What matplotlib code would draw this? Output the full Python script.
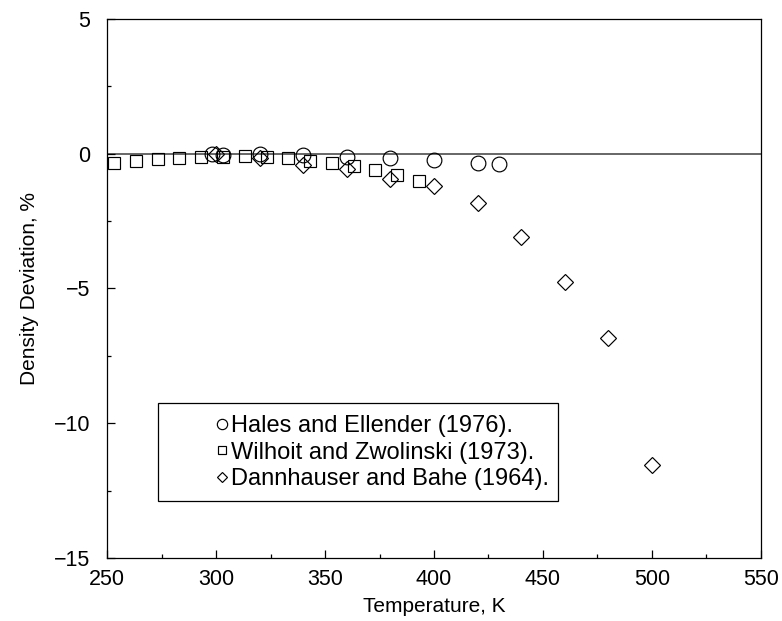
import matplotlib
matplotlib.use("Agg")
import matplotlib.pyplot as plt
from matplotlib.patches import Rectangle
from matplotlib.ticker import MultipleLocator

plt.rcParams['font.family'] = ['Liberation Sans', 'DejaVu Sans']
plt.rcParams['font.size'] = 15

# Hales and Ellender (1976)
hales_T = [298.15, 303.15, 320, 340, 360, 380, 400, 420, 430]
hales_dev = [-0.03, -0.04, -0.02, -0.06, -0.12, -0.17, -0.23, -0.34, -0.39]

# Wilhoit and Zwolinski (1973)
wilhoit_T = [253.15, 263.15, 273.15, 283.15, 293.15, 303.15, 313.15, 323.15,
             333.15, 343.15, 353.15, 363.15, 373.15, 383.15, 393.15]
wilhoit_dev = [-0.34, -0.29, -0.22, -0.16, -0.13, -0.11, -0.09, -0.14,
               -0.16, -0.27, -0.34, -0.46, -0.62, -0.80, -1.03]

# Dannhauser and Bahe (1964)
dann_T = [300, 320, 340, 360, 380, 400, 420, 440, 460, 480, 500]
dann_dev = [-0.02, -0.17, -0.43, -0.58, -0.93, -1.22, -1.84, -3.10, -4.77, -6.85, -11.55]

labels = ["Hales and Ellender (1976).",
          "Wilhoit and Zwolinski (1973).",
          "Dannhauser and Bahe (1964)."]

fig = plt.figure(figsize=(7.82, 6.21), dpi=100)
ax = fig.add_axes([0.137, 0.101, 0.836, 0.869])

ax.axhline(0, color='0.3', lw=1.2, zorder=1)

mk = dict(linestyle='none', markerfacecolor='none', markeredgecolor='black',
          markeredgewidth=0.85, zorder=3)
h1, = ax.plot(hales_T, hales_dev, marker='o', markersize=10.6, label=labels[0], **mk)
h2, = ax.plot(wilhoit_T, wilhoit_dev, marker='s', markersize=8.4, label=labels[1], **mk)
h3, = ax.plot(dann_T, dann_dev, marker='D', markersize=8.0, label=labels[2], **mk)

ax.set_xlim(250, 550)
ax.set_ylim(-15, 5)
ax.xaxis.set_major_locator(MultipleLocator(50))
ax.xaxis.set_minor_locator(MultipleLocator(25))
ax.yaxis.set_major_locator(MultipleLocator(5))
ax.yaxis.set_minor_locator(MultipleLocator(2.5))
ax.tick_params(which='both', direction='in', top=False, right=False)
ax.tick_params(which='major', length=5.8, width=0.9, labelsize=15.5)
ax.tick_params(axis='y', which='major', pad=12)
ax.tick_params(axis='x', which='major', pad=8)
ax.tick_params(which='minor', length=2.9, width=0.9)
for s in ax.spines.values():
    s.set_linewidth(0.9)

ax.set_xlabel("Temperature, K", labelpad=5)
ax.set_ylabel("Density Deviation, %", labelpad=11)

# legend frame drawn separately so the entries can sit inset from its left edge
box = Rectangle((0.078, 0.107), 0.612, 0.180, transform=ax.transAxes,
                facecolor='white', edgecolor='black', lw=0.9, zorder=4)
ax.add_patch(box)
leg = ax.legend(handles=[h1, h2, h3], loc='upper left',
                bbox_to_anchor=(0.166, 0.265), frameon=False,
                markerscale=0.7, handlelength=0.55, handletextpad=0.1,
                borderpad=0.0, borderaxespad=0.0, labelspacing=0.18,
                fontsize=17)
leg.set_zorder(5)

fig.savefig("out.png", dpi=100)
